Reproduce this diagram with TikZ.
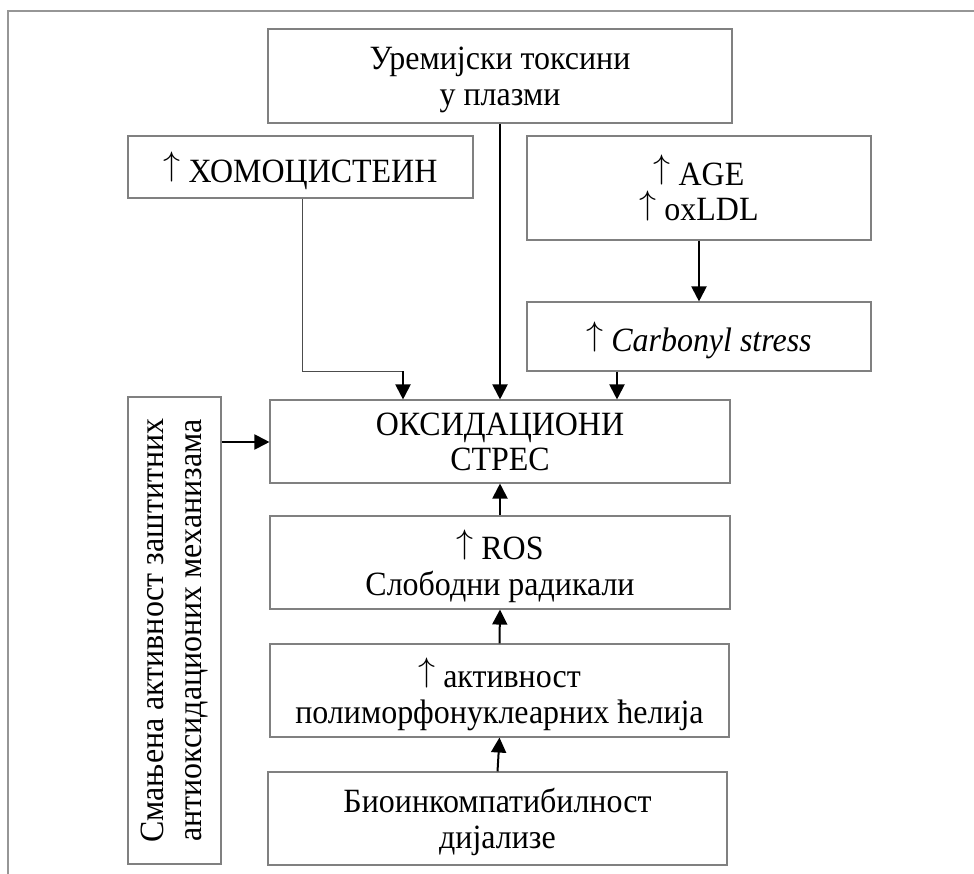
\RequirePackage{fix-cm}
\documentclass[tikz,border=0pt]{standalone}
\usepackage{fontspec}
\usepackage{graphicx}
\setmainfont{Liberation Serif}[FakeStretch=0.94]
\usetikzlibrary{arrows.meta}
\definecolor{boxgray}{RGB}{128,128,128}
\definecolor{framegray}{RGB}{150,150,150}
\newcommand{\uparr}{\raisebox{0.194em}{$\uparrow$}}
\begin{document}
\begin{tikzpicture}[x=1pt,y=-1pt,
  box/.style={draw=boxgray, line width=1.1pt, inner sep=0pt, align=center,
    text depth=0pt, font=\fontsize{34}{35.5}\selectfont},
  arr/.style={line width=2pt, -{Triangle[width=15pt,length=15pt]}},
  thinline/.style={draw=black!70, line width=0.9pt},
  frame/.style={draw=framegray, line width=1.3pt}]
\useasboundingbox (0,0) rectangle (974,874);
% outer frame (top and left edges visible)
\coordinate (fl) at (8,874);
\coordinate (ftl) at (8,11);
\coordinate (ftr) at (974,11);
\draw[frame] (fl) -- (ftl) -- (ftr);
% boxes
\node[box, minimum width=464pt, minimum height=94pt] (tox) at (500,76) {Уремијски токсини\\у плазми};
\node[box, minimum width=345pt, minimum height=62pt] (homo) at (300.5,167) {\uparr\ ХОМОЦИСТЕИН};
\node[box, minimum width=344pt, minimum height=104pt] (age) at (699,188) {\uparr\ AGE\\\uparr\ oxLDL};
\node[box, minimum width=344pt, minimum height=69pt] (carb) at (699,336.5) {\uparr\ \textit{Carbonyl stress}};
\node[box, minimum width=460pt, minimum height=83pt] (oks) at (500,441.5) {ОКСИДАЦИОНИ\\СТРЕС};
\node[box, minimum width=460pt, minimum height=93pt] (ros) at (500,562.5) {\uparr\ ROS\\Слободни радикали};
\node[box, minimum width=459pt, minimum height=93pt] (act) at (499.5,690.5) {\uparr\ активност\\полиморфонуклеарних ћелија};
\node[box, minimum width=459pt, minimum height=93pt] (bio) at (497.5,818.5) {Биоинкомпатибилност\\дијализе};
\node[box, minimum width=93pt, minimum height=467pt] (left) at (174.5,630.5) {};
\node[rotate=90, align=center, inner sep=0pt, font=\fontsize{34}{38}\selectfont] (lefttxt) at (left.center) {Смањена активност заштитних\\антиоксидационих механизама};
% helper coordinates
\coordinate (hx) at (302,0);
\coordinate (hb) at (403,371);
\coordinate (cx) at (617,0);
\coordinate (ly) at (0,442);
% connectors
\draw[arr] (tox.south) -- (tox.south |- oks.north);
\draw[thinline] (homo.south -| hx) |- (hb);
\draw[arr] (hb) -- (hb |- oks.north);
\draw[arr] (age.south) -- (carb.north);
\draw[arr] (carb.south -| cx) -- (oks.north -| cx);
\draw[arr] (left.east |- ly) -- (oks.west |- ly);
\draw[arr] (ros.north) -- (oks.south);
\draw[arr] (act.north) -- (ros.south);
\draw[arr] (bio.north) -- (act.south);
\end{tikzpicture}
\end{document}
